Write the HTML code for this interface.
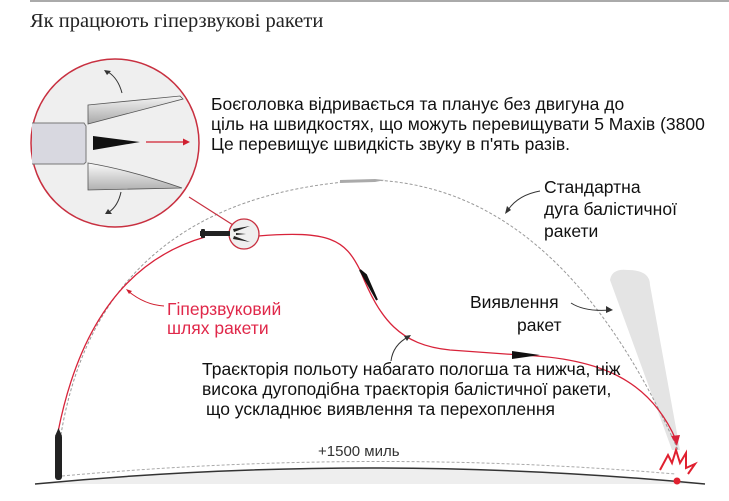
<!DOCTYPE html>
<html><head><meta charset="utf-8"><style>
html,body{margin:0;padding:0;background:#fff;}
svg{display:block;}
text{font-family:"Liberation Sans",sans-serif;}
</style></head><body>
<svg width="729" height="501" viewBox="0 0 729 501" xmlns="http://www.w3.org/2000/svg">
<defs>
<linearGradient id="fin" x1="0" y1="0" x2="0" y2="1"><stop offset="0" stop-color="#f4f4f4"/><stop offset="1" stop-color="#a8a8a8"/></linearGradient>
<linearGradient id="fin2" x1="0" y1="0" x2="0" y2="1"><stop offset="0" stop-color="#fafafa"/><stop offset="1" stop-color="#b0b0b0"/></linearGradient>
</defs>
<line x1="30" y1="1" x2="729" y2="1" stroke="#aaa" stroke-width="2"/>
<text x="30" y="27" font-size="20.5" fill="#222" style="font-family:'Liberation Serif',serif">Як працюють гіперзвукові ракети</text>

<!-- ground -->
<path d="M35 484 Q370 452 705 484 Z" fill="#eeeeee"/>
<path d="M35 484 Q370 452 705 484" fill="none" stroke="#333" stroke-width="1.5"/>
<path d="M62 476 Q370 448 675 474" fill="none" stroke="#aaa" stroke-width="1" stroke-dasharray="3,2"/>

<!-- detection cone -->
<path d="M610 280 Q612 268 628 270 Q650 270 650 285 L680 450 L672 450 Z" fill="#e4e4e4"/>

<!-- ballistic arc -->
<path d="M58 455 Q90 195 370 180 Q560 185 678 450" fill="none" stroke="#999" stroke-width="1" stroke-dasharray="3,2"/>
<path d="M340 180 L375 179 L385 180 L375 182 L340 183 Z" fill="#aaa"/>

<!-- red hypersonic path -->
<path d="M58 432 Q90 270 205 237" fill="none" stroke="#d8233a" stroke-width="1.3"/>
<path d="M258 236 C330 230 345 240 360 270 C380 320 400 345 450 350 L520 355 C600 358 650 380 676 440" fill="none" stroke="#d8233a" stroke-width="1.3"/>
<path d="M671 436 L677 446 L680 435 Z" fill="#d8233a"/>
<path d="M360 270 L377 300 L366 275 Z" fill="#111" stroke="#111" stroke-width="2"/>
<path d="M512 351 L540 355 L512 359 Z" fill="#111"/>

<!-- launch missile -->
<rect x="55" y="434" width="7" height="46" rx="3" fill="#222"/>
<path d="M55 436 L58.5 428 L62 436 Z" fill="#222"/>

<!-- explosion -->
<path d="M660 470 L668 455 L672 463 L676 450 L680 463 L686 453 L686 468 L695 464 L688 474" fill="none" stroke="#e0202f" stroke-width="2"/>
<circle cx="677" cy="481" r="3.5" fill="#e0202f"/>

<!-- connector circle -->
<line x1="189" y1="197" x2="233" y2="225" stroke="#c83040" stroke-width="1.2"/>
<circle cx="115" cy="143" r="84" fill="#efefef" stroke="#c83040" stroke-width="1.5"/>
<circle cx="244" cy="234" r="15" fill="#efefef" stroke="#c83040" stroke-width="1.3"/>
<rect x="200" y="231" width="30" height="5" fill="#222"/>
<rect x="201" y="229" width="4" height="9" rx="1" fill="#222"/>
<path d="M233 229 L250 226 L234 232 Z M236 233 L246 234 L236 235 Z M233 239 L250 242 L234 236 Z" fill="#222"/>

<!-- inside big circle -->
<path d="M32 123 L84 123 L86 126 L86 162 L84 164 L32 164" fill="#d8d8e0" stroke="#777" stroke-width="1"/>
<path d="M88 105 L180 96 L183 99 L88 124 Z" fill="url(#fin)" stroke="#555" stroke-width="0.8"/>
<path d="M88 163 Q130 170 182 188 L88 190 Z" fill="url(#fin2)" stroke="#555" stroke-width="0.8"/>
<path d="M93 136 L140 142 L93 150 Z" fill="#111"/>
<line x1="146" y1="142" x2="183" y2="142" stroke="#d02030" stroke-width="1.2"/>
<path d="M183 138.5 L190 142 L183 145.5 Z" fill="#d02030"/>
<path d="M122 93 Q118 78 108 72" fill="none" stroke="#333" stroke-width="1"/>
<path d="M104 70 L111 71 L107 75 Z" fill="#333"/>
<path d="M121 192 Q118 206 109 212" fill="none" stroke="#333" stroke-width="1"/>
<path d="M105 214 L112 214 L108 209 Z" fill="#333"/>

<!-- texts -->
<g font-size="17.5" fill="#111">
<text x="211" y="110">Боєголовка відривається та планує без двигуна до</text>
<text x="211" y="130">ціль на швидкостях, що можуть перевищувати 5 Махів (3800</text>
<text x="211" y="150">Це перевищує швидкість звуку в п'ять разів.</text>
<text x="544" y="193">Стандартна</text>
<text x="544" y="215">дуга балістичної</text>
<text x="544" y="237">ракети</text>
<text x="470" y="308">Виявлення</text>
<text x="517" y="331">ракет</text>
<text x="202" y="375">Траєкторія польоту набагато пологша та нижча, ніж</text>
<text x="202" y="395">висока дугоподібна траєкторія балістичної ракети,</text>
<text x="206" y="415">що ускладнює виявлення та перехоплення</text>
<text x="318" y="456" font-size="15" fill="#333">+1500 миль</text>
</g>
<g font-size="17.5" fill="#e0284a">
<text x="167" y="315">Гіперзвуковий</text>
<text x="167" y="334">шлях ракети</text>
</g>
<!-- pointers -->
<path d="M540 191 Q518 195 508 210" fill="none" stroke="#333" stroke-width="1"/>
<path d="M505 214 L507 206 L511 210 Z" fill="#333"/>
<path d="M571 303 Q585 312 610 310" fill="none" stroke="#333" stroke-width="1"/>
<path d="M613 310 L606 306 L606 313 Z" fill="#333"/>
<path d="M164 306 Q145 305 128 291" fill="none" stroke="#d02030" stroke-width="1"/>
<path d="M126 289 L132 291 L129 294 Z" fill="#d02030"/>
<path d="M391 361 Q393 345 408 337" fill="none" stroke="#333" stroke-width="1"/>
<path d="M411 335 L404 336 L407 341 Z" fill="#333"/>
</svg>
</body></html>
